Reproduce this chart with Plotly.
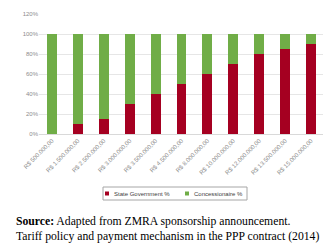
import plotly.graph_objects as go

categories = ["R$ 500.000,00", "R$ 1.500.000,00", "R$ 2.500.000,00", "R$ 3.000.000,00",
              "R$ 3.500.000,00", "R$ 4.500.000,00", "R$ 8.000.000,00", "R$ 10.000.000,00",
              "R$ 12.000.000,00", "R$ 13.500.000,00", "R$ 15.000.000,00"]
state_gov = [0, 10, 15, 30, 40, 50, 60, 70, 80, 85, 90]
concessionaire = [100, 90, 85, 70, 60, 50, 40, 30, 20, 15, 10]
y_ticks = [0, 20, 40, 60, 80, 100, 120]
y_tick_labels = ["0%", "20%", "40%", "60%", "80%", "100%", "120%"]
series_names = ["State Government %", "Concessionaire %"]
series_colors = ["#A50021", "#70AD47"]
source_lines = ["<b>Source:</b> Adapted from ZMRA sponsorship announcement.",
                "Tariff policy and payment mechanism in the PPP contract (2014)"]

# the page body has an 8px default margin, so the figure is drawn 8px in from the window
OFF = 8
W, H = 331 - OFF, 246 - OFF
L, R, T, B = 39 - OFF, W - (324 - OFF), 14 - OFF, H - (134 - OFF)
PW, PH = W - L - R, H - T - B


def px(x):
    """window x pixel -> paper coordinate"""
    return (x - OFF - L) / PW


def py(y):
    """window y pixel -> paper coordinate"""
    return 1 - (y - OFF - T) / PH


fig = go.Figure()
for name, vals, col in zip(series_names, [state_gov, concessionaire], series_colors):
    fig.add_trace(go.Bar(x=categories, y=vals, name=name, showlegend=False,
                         marker=dict(color=col, line=dict(width=0)), width=0.38))

fig.update_layout(
    barmode="stack",
    width=W, height=H,
    margin=dict(l=L, r=R, t=T, b=B, autoexpand=False),
    paper_bgcolor="white", plot_bgcolor="white",
    font=dict(family="Liberation Sans, Arial", color="#7f7f7f", size=6),
    xaxis=dict(tickangle=-45, tickfont=dict(size=6, color="#8c8c8c"), automargin=False,
               showgrid=False, showline=True, linecolor="#d9d9d9", ticks=""),
    yaxis=dict(range=[0, 120], tickvals=y_ticks, automargin=False,
               ticktext=y_tick_labels, tickfont=dict(size=6, color="#8c8c8c"),
               showgrid=True, gridcolor="#e6e6e6", gridwidth=1, zeroline=False, ticks=""),
    showlegend=False,
)

# legend box
fig.add_shape(type="rect", xref="paper", yref="paper", x0=px(103), x1=px(247),
              y0=py(200), y1=py(187), line=dict(color="#a6a6a6", width=1), fillcolor="white")
leg_x = [105, 185]
for name, col, lx in zip(series_names, series_colors, leg_x):
    fig.add_shape(type="rect", xref="paper", yref="paper", x0=px(lx), x1=px(lx + 4),
                  y0=py(195.5), y1=py(191.5), line=dict(width=0), fillcolor=col)
    fig.add_annotation(x=px(lx + 7), y=py(193.5), xref="paper", yref="paper",
                       xanchor="left", yanchor="middle", showarrow=False, text=name,
                       font=dict(family="Liberation Sans, Arial", size=6, color="#404040"))

for line, yy in zip(source_lines, [221, 236]):
    fig.add_annotation(
        x=px(14), y=py(yy), xref="paper", yref="paper", xanchor="left", yanchor="middle",
        align="left", showarrow=False, text=line,
        font=dict(family="Liberation Serif, Times New Roman", size=11.7, color="black"),
    )
fig.write_html("out.html")
